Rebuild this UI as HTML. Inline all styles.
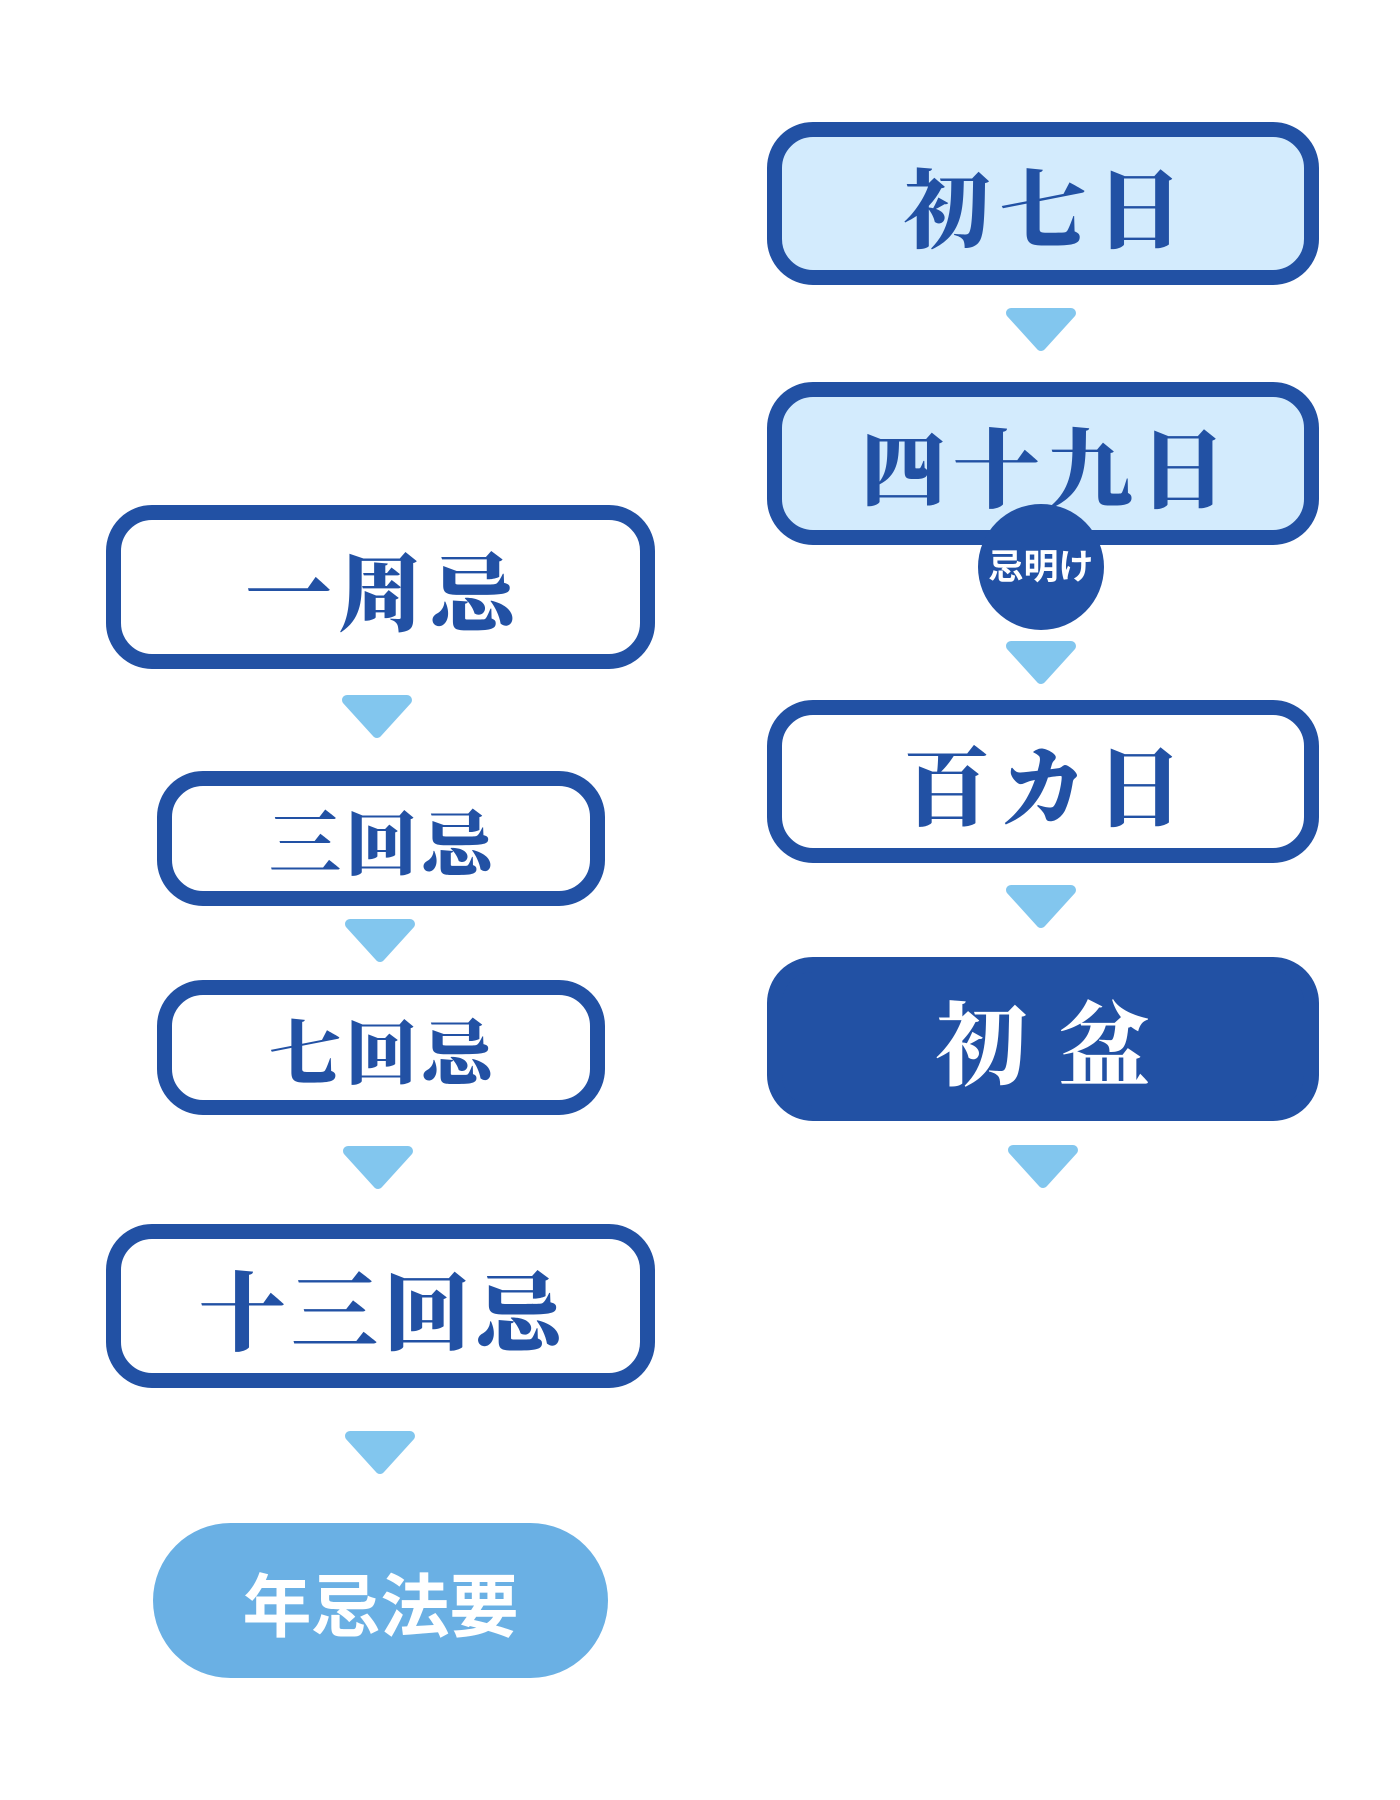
<!DOCTYPE html>
<html><head><meta charset="utf-8"><style>
body{margin:0;width:1400px;height:1800px;background:#fff;position:relative;overflow:hidden}
.b{position:absolute;box-sizing:border-box;border:15px solid #2251a4;border-radius:46px;background:#fff;display:flex;align-items:center;justify-content:center;color:#2251a4;font-family:"Liberation Serif","Noto Serif CJK JP","Noto Serif CJK SC",serif;font-weight:900;white-space:nowrap}
.l{background:#d3ebfd}
</style></head><body>
<div class="b l" style="left:767px;top:122px;width:552px;height:163px;font-size:87px;letter-spacing:9px;padding-left:9px">初七日</div>
<div class="b l" style="left:767px;top:382px;width:552px;height:163px;font-size:87px;letter-spacing:6px;padding-left:6px">四十九日</div>
<div style="position:absolute;left:978px;top:504px;width:126px;height:126px;border-radius:50%;background:#2251a4;color:#fff;font:bold 35px 'Liberation Sans','Noto Sans CJK JP',sans-serif;display:flex;align-items:center;justify-content:center;padding-bottom:6px;box-sizing:border-box">忌明け</div>
<div class="b" style="left:767px;top:700px;width:552px;height:163px;font-size:87px;letter-spacing:9px;padding-left:9px">百カ日</div>
<div class="b" style="left:767px;top:957px;width:552px;height:164px;background:#2251a4;color:#fff;font-size:92px;letter-spacing:4px;padding-left:4px">初 盆</div>

<div class="b" style="left:106px;top:505px;width:549px;height:164px;font-size:86px;letter-spacing:6px;padding-left:6px">一周忌</div>
<div class="b" style="left:157px;top:771px;width:448px;height:135px;font-size:72px;letter-spacing:4px;padding-left:4px">三回忌</div>
<div class="b" style="left:157px;top:980px;width:448px;height:135px;font-size:72px;letter-spacing:4px;padding-left:4px">七回忌</div>
<div class="b" style="left:106px;top:1224px;width:549px;height:164px;font-size:87px;letter-spacing:5px;padding-left:5px">十三回忌</div>
<div style="position:absolute;left:153px;top:1523px;width:455px;height:155px;border-radius:78px;background:#6ab0e4;color:#fff;font:bold 69px 'Liberation Sans','Noto Sans CJK JP',sans-serif;display:flex;align-items:center;justify-content:center">年忌法要</div>

<svg width="1400" height="1800" style="position:absolute;left:0;top:0" fill="#82c6ee" stroke="#82c6ee" stroke-width="10" stroke-linejoin="round">
<defs><polygon id="ar" points="-30,313 30,313 0,346"/></defs>
<use href="#ar" x="1041" y="0"/>
<use href="#ar" x="1041" y="333"/>
<use href="#ar" x="1041" y="577"/>
<use href="#ar" x="1043" y="837"/>
<use href="#ar" x="377" y="387"/>
<use href="#ar" x="380" y="611"/>
<use href="#ar" x="378" y="838"/>
<use href="#ar" x="380" y="1123"/>
</svg>
</body></html>
